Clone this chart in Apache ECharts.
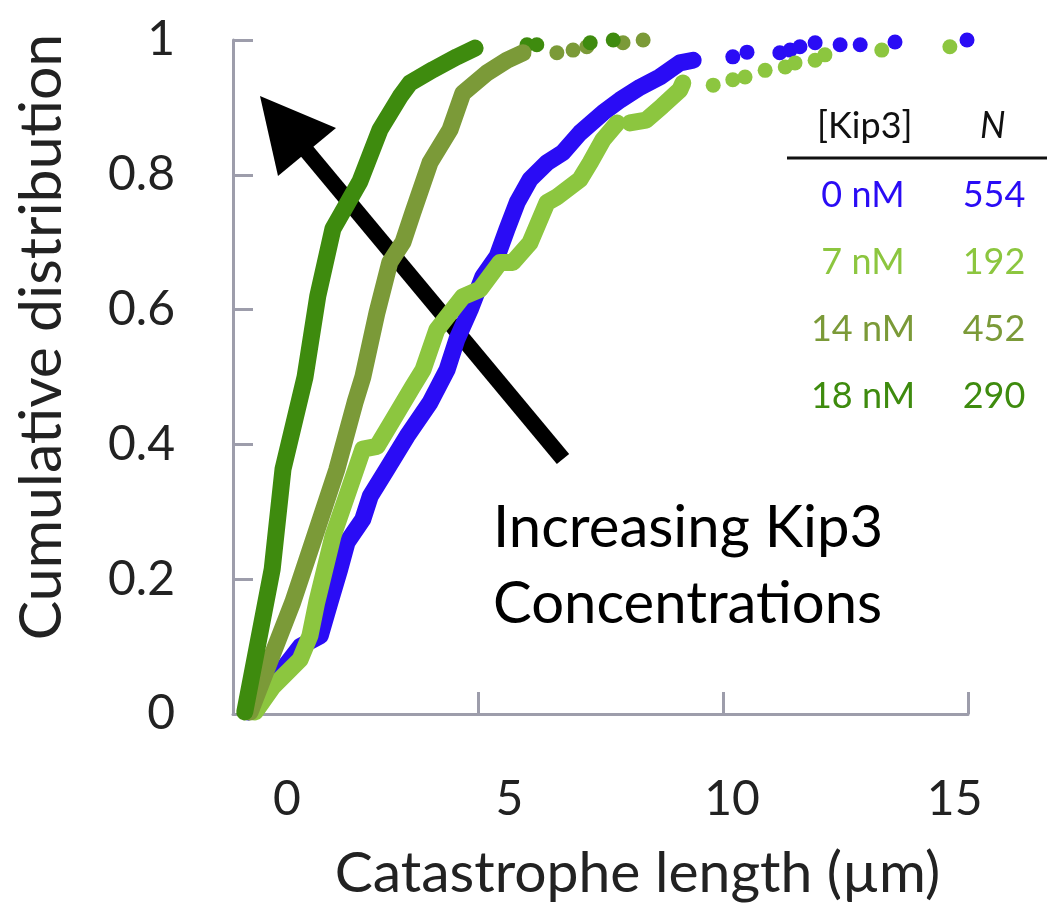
<!DOCTYPE html>
<html>
<head>
<meta charset="utf-8">
<script src="https://cdn.jsdelivr.net/npm/echarts@6/dist/echarts.min.js"></script>
<style>
html,body{margin:0;padding:0;background:#fff;}
#chart{width:1053px;height:907px;}
</style>
</head>
<body>
<div id="chart"></div>
<script>
// ---- data ----
const xTickLabels = [0, 5, 10, 15];
const yTicks = [0, 0.2, 0.4, 0.6, 0.8, 1];
const concLabels = ['0 nM', '7 nM', '14 nM', '18 nM'];
const counts = ['554', '192', '452', '290'];

// 0 nM (blue)
const blueBody = [[0.31,0.003],[1.02,0.067],[1.37,0.10],[1.78,0.116],[1.98,0.166],[2.18,0.215],[2.33,0.255],[2.65,0.289],[2.80,0.323],[3.14,0.363],[3.55,0.412],[4.02,0.462],[4.37,0.511],[4.57,0.556],[4.84,0.60],[5.10,0.649],[5.39,0.679],[5.59,0.719],[5.80,0.759],[6.06,0.793],[6.41,0.818],[6.73,0.833],[7.08,0.862],[7.55,0.892],[7.90,0.911],[8.31,0.930],[8.71,0.945],[9.12,0.966],[9.39,0.970]];
const blueTail = [[10.2,0.975],[10.49,0.982],[11.16,0.981],[11.37,0.985],[11.57,0.99],[11.88,0.996],[12.39,0.993],[12.8,0.993],[13.51,0.997],[14.98,1.0]];

// 7 nM (light green)
const lightBody1 = [[0.45,0.003],[0.82,0.041],[1.37,0.081],[1.57,0.116],[1.71,0.166],[2.04,0.264],[2.39,0.338],[2.65,0.393],[2.94,0.397],[3.27,0.437],[3.67,0.486],[3.88,0.511],[4.16,0.570],[4.69,0.619],[5.04,0.630],[5.45,0.670],[5.71,0.670],[6.06,0.699],[6.41,0.759],[6.61,0.767],[7.08,0.793],[7.29,0.818],[7.55,0.852],[7.84,0.877]];
const lightBody2 = [[8.10,0.877],[8.43,0.881],[8.76,0.902],[9.12,0.926],[9.18,0.936]];
const lightTail = [[9.8,0.933],[10.2,0.941],[10.45,0.945],[10.86,0.955],[11.27,0.960],[11.47,0.966],[11.88,0.970],[12.08,0.978],[13.24,0.985],[14.63,0.990]];

// 14 nM (olive)
const oliveBody = [[0.35,0.003],[0.69,0.067],[1.22,0.166],[1.67,0.264],[2.12,0.363],[2.49,0.462],[2.65,0.50],[2.94,0.596],[3.20,0.67],[3.47,0.70],[3.67,0.744],[4.02,0.818],[4.43,0.867],[4.69,0.921],[5.18,0.951],[5.59,0.970],[5.92,0.981]];
const oliveTail = [[6.61,0.981],[6.94,0.985],[7.22,0.99],[7.96,0.996],[8.37,1.0]];

// 18 nM (dark green)
const darkBody = [[0.24,0.003],[0.80,0.215],[1.02,0.363],[1.47,0.50],[1.73,0.62],[2.04,0.72],[2.59,0.79],[3.0,0.867],[3.41,0.916],[3.61,0.936],[4.08,0.956],[4.57,0.975],[4.94,0.988]];
const darkTail = [[6.0,0.993],[6.2,0.993],[7.29,0.996],[7.76,1.0]];

const colors = ['#2a0cf5', '#8cc63f', '#7b9a38', '#3e8b0e'];

function lineS(data, color) {
  return { type:'line', data:data, xAxisIndex:0, yAxisIndex:0, showSymbol:false, symbol:'none',
    lineStyle:{ color:color, width:17, cap:'round', join:'round' }, itemStyle:{color:color},
    animation:false, silent:true };
}
function dotS(data, color) {
  return { type:'scatter', data:data, xAxisIndex:0, yAxisIndex:0, symbolSize:15,
    itemStyle:{ color:color, opacity:1 }, animation:false, silent:true };
}

const axisGray = '#9d9dab';
const FONT = 'Lato';

const chart = echarts.init(document.getElementById('chart'), null, {renderer:'canvas'});

const legendGraphics = [];
legendGraphics.push({type:'text', left:817, top:108, style:{text:'[Kip3]', font:'36px Lato', fill:'#111'}});
legendGraphics.push({type:'text', left:980, top:108, style:{text:'N', font:'italic 36px Lato', fill:'#111'}});
legendGraphics.push({type:'line', shape:{x1:787, y1:158, x2:1047, y2:158}, style:{stroke:'#111', lineWidth:3}});
const rowY = [195, 262, 329, 396];
concLabels.forEach(function(t, i){
  legendGraphics.push({type:'text', x:863, y:rowY[i], style:{text:t, font:'36px Lato', fill:colors[i], textAlign:'center', textVerticalAlign:'middle'}});
  legendGraphics.push({type:'text', x:994, y:rowY[i], style:{text:counts[i], font:'36px Lato', fill:colors[i], textAlign:'center', textVerticalAlign:'middle'}});
});
// arrow
legendGraphics.push({type:'line', shape:{x1:563, y1:459, x2:300, y2:143}, style:{stroke:'#000', lineWidth:16}});
legendGraphics.push({type:'polygon', shape:{points:[[260,96],[336,128],[278,176]]}, style:{fill:'#000'}});
legendGraphics.push({type:'text', left:493, top:490, style:{text:'Increasing Kip3\nConcentrations', font:'58px Lato', fill:'#000', lineHeight:76}});

const option = {
  backgroundColor:'#fff',
  animation:false,
  grid:{ left:233, top:40, right:85, bottom:193, containLabel:false },
  xAxis:[
    { type:'value', min:0, max:15, interval:5, position:'bottom',
      axisLine:{ show:true, lineStyle:{ color:axisGray, width:3 } },
      axisTick:{ show:true, inside:true, length:22, lineStyle:{ color:axisGray, width:3 } },
      axisLabel:{ show:false }, splitLine:{ show:false },
      name:'Catastrophe length (µm)', nameLocation:'middle', nameGap:131,
      nameTextStyle:{ fontFamily:FONT, fontSize:57, color:'#222', padding:[0,0,0,74] } },
    { type:'value', min:-1.213, max:15.30, position:'bottom',
      axisLine:{ show:false }, axisTick:{ show:false }, splitLine:{ show:false },
      axisLabel:{ show:true, customValues:xTickLabels, margin:62, fontFamily:FONT, fontSize:48, color:'#222',
        showMinLabel:true, showMaxLabel:true } }
  ],
  yAxis:[
    { type:'value', min:0, max:1, interval:0.2,
      axisLine:{ show:true, lineStyle:{ color:axisGray, width:3 } },
      axisTick:{ show:true, inside:true, length:20, lineStyle:{ color:axisGray, width:3 } },
      axisLabel:{ margin:58, fontFamily:FONT, fontSize:48, color:'#222' },
      splitLine:{ show:false },
      name:'Cumulative distribution', nameLocation:'middle', nameGap:162,
      nameTextStyle:{ fontFamily:FONT, fontSize:59, color:'#222', padding:[0,0,0,80] } }
  ],
  series:[
    lineS(blueBody, colors[0]), dotS(blueTail, colors[0]),
    lineS(lightBody1, colors[1]), lineS(lightBody2, colors[1]), dotS(lightTail, colors[1]),
    lineS(oliveBody, colors[2]), dotS(oliveTail, colors[2]),
    lineS(darkBody, colors[3]), dotS(darkTail, colors[3])
  ],
  graphic: legendGraphics
};
chart.setOption(option);
</script>
</body>
</html>
